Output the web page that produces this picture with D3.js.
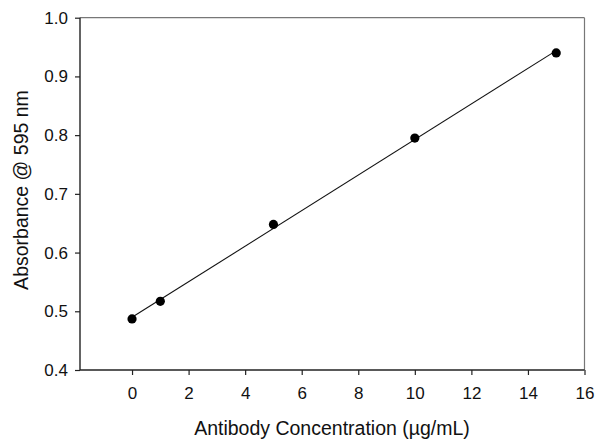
<!DOCTYPE html>
<html>
<head>
<meta charset="utf-8">
<script src="https://cdn.jsdelivr.net/npm/d3@7"></script>
<style>
  html, body { margin: 0; padding: 0; background: #ffffff; }
  svg { display: block; }
</style>
</head>
<body>
<svg id="chart" width="598" height="444"></svg>
<script>
// Data
const concentration = [0, 1, 5, 10, 15];
const absorbance = [0.487, 0.517, 0.648, 0.795, 0.940];
// Fitted regression line endpoints (as drawn in the reference)
const fitX = [0, 15];
const fitY = [0.4897, 0.9439];
const xTicks = [0, 2, 4, 6, 8, 10, 12, 14, 16];
const yTicks = [0.4, 0.5, 0.6, 0.7, 0.8, 0.9, 1.0];

const svg = d3.select("#chart");
const margin = { left: 80, top: 17.7, right: 598 - 584.5, bottom: 444 - 370 };
const W = 598, H = 444;

const x = d3.scaleLinear().domain([-1.84, 16]).range([margin.left, W - margin.right]);
const y = d3.scaleLinear().domain([0.4, 1.0]).range([H - margin.bottom, margin.top]);

const font = "'Liberation Sans', Arial, sans-serif";

// Frame top & right
svg.append("line")
  .attr("x1", x.range()[0]).attr("x2", x.range()[1])
  .attr("y1", y(1.0)).attr("y2", y(1.0))
  .attr("stroke", "#777").attr("stroke-width", 1.2);
svg.append("line")
  .attr("x1", x(16)).attr("x2", x(16))
  .attr("y1", y(1.0)).attr("y2", y(0.4))
  .attr("stroke", "#777").attr("stroke-width", 1.2);

// Axes
const xAxis = d3.axisBottom(x).tickValues(xTicks).tickFormat(d3.format("d")).tickSizeOuter(0).tickSizeInner(5).tickPadding(12);
const yAxis = d3.axisLeft(y).tickValues(yTicks).tickFormat(d3.format(".1f")).tickSizeOuter(0).tickSizeInner(5).tickPadding(7);

const gx = svg.append("g").attr("transform", `translate(0,${y(0.4)})`).call(xAxis);
const gy = svg.append("g").attr("transform", `translate(${x.range()[0]},0)`).call(yAxis);

[gx, gy].forEach(g => {
  g.select(".domain").attr("stroke", "#222").attr("stroke-width", 1.4);
  g.selectAll(".tick line").attr("stroke", "#222").attr("stroke-width", 1.2);
  g.selectAll(".tick text").attr("fill", "#111").style("font-family", font).style("font-size", "17px");
});
gx.select(".domain").attr("d", `M${x.range()[0]},0H${x.range()[1]}`);
gy.select(".domain").attr("d", `M0,${y.range()[0]}V${y.range()[1]}`);

// Regression line
svg.append("path")
  .datum(fitX.map((d, i) => [d, fitY[i]]))
  .attr("fill", "none")
  .attr("stroke", "#111")
  .attr("stroke-width", 1.1)
  .attr("d", d3.line().x(d => x(d[0])).y(d => y(d[1])));

// Points
svg.selectAll("circle.pt")
  .data(concentration.map((d, i) => [d, absorbance[i]]))
  .enter().append("circle")
  .attr("class", "pt")
  .attr("cx", d => x(d[0]))
  .attr("cy", d => y(d[1]))
  .attr("r", 4.6)
  .attr("fill", "#000");

// Axis titles
svg.append("text")
  .attr("x", 332)
  .attr("y", 435)
  .attr("text-anchor", "middle")
  .style("font-family", font)
  .style("font-size", "19.5px")
  .attr("fill", "#111")
  .text("Antibody Concentration (µg/mL)");

svg.append("text")
  .attr("transform", `translate(28,190) rotate(-90)`)
  .attr("text-anchor", "middle")
  .style("font-family", font)
  .style("font-size", "19.5px")
  .attr("fill", "#111")
  .text("Absorbance @ 595 nm");
</script>
</body>
</html>
